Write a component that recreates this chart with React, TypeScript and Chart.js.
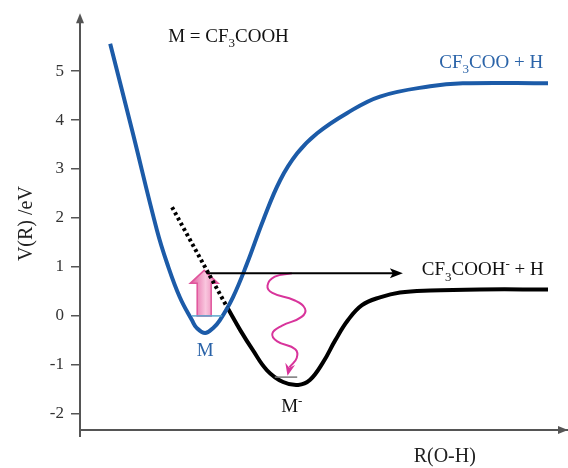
import React, { useEffect, useRef } from "react";
import { Chart, registerables } from "chart.js";

Chart.register(...registerables);

// ---- Data (R in arbitrary units, V in eV) ----
const blueR = [0.62, 1.07, 1.58, 1.79, 2.05, 2.3, 2.4, 2.57, 2.73, 2.87, 3.14, 3.43, 3.76, 4.11, 4.46, 4.87, 5.48, 6.16, 7.19, 7.86, 9.61];
const blueV = [5.56, 3.79, 1.75, 1.07, 0.38, -0.09, -0.25, -0.35, -0.25, -0.09, 0.38, 1.07, 1.95, 2.77, 3.32, 3.73, 4.14, 4.48, 4.69, 4.75, 4.75];

const blackR = [3.02, 3.29, 3.55, 3.84, 4.17, 4.48, 4.72, 4.99, 5.24, 5.5, 5.79, 6.16, 6.57, 7.19, 8.21, 9.61];
const blackV = [0.18, -0.29, -0.7, -1.11, -1.35, -1.41, -1.31, -0.95, -0.5, -0.09, 0.22, 0.38, 0.48, 0.52, 0.54, 0.54];

const crossR = [1.89, 3.02];
const crossV = [2.22, 0.18];

const waveR = [4.35, 4.0, 3.85, 3.95, 4.4, 4.62, 4.55, 4.15, 3.95, 4.05, 4.42, 4.45, 4.3];
const waveV = [0.87, 0.8, 0.62, 0.47, 0.32, 0.15, -0.02, -0.2, -0.36, -0.52, -0.68, -0.86, -1.05];
const waveTip = { r: 4.27, v: -1.18 };

const yTicks = [-2, -1, 0, 1, 2, 3, 4, 5];

const levelM = { r0: 2.3, r1: 2.92, v: 0 };
const levelMminus = { r0: 4.0, r1: 4.46, v: -1.25 };
const excitation = { r: 2.55, v0: 0, v1: 0.93 };
const detach = { r0: 2.6, r1: 6.63, v: 0.87 };

const SERIF = "'Liberation Serif','Times New Roman',serif";
const BLUE = "#1c5ba8";
const BLUE_TEXT = "#2a63a8";
const PINK = "#d8349b";

type Part = { t: string; k?: "sub" | "sup" };

function drawRich(ctx: CanvasRenderingContext2D, parts: Part[], x: number, y: number, size: number, color: string, align: "left" | "right" | "center") {
  const fontFor = (p: Part) => `${p.k ? Math.round(size * 0.68) : size}px ${SERIF}`;
  const widths = parts.map((p) => {
    ctx.font = fontFor(p);
    return ctx.measureText(p.t).width;
  });
  const total = widths.reduce((a, b) => a + b, 0);
  let cx = align === "right" ? x - total : align === "center" ? x - total / 2 : x;
  ctx.fillStyle = color;
  ctx.textAlign = "left";
  ctx.textBaseline = "alphabetic";
  parts.forEach((p, i) => {
    ctx.font = fontFor(p);
    const dy = p.k === "sub" ? size * 0.28 : p.k === "sup" ? -size * 0.38 : 0;
    ctx.fillText(p.t, cx, y + dy);
    cx += widths[i];
  });
}

const annotPlugin = {
  id: "annot",
  beforeDatasetsDraw(chart: any) {
    const { ctx, scales } = chart;
    const x = scales.x, y = scales.y;
    // pink block arrow
    const cx = x.getPixelForValue(excitation.r);
    const yb = y.getPixelForValue(excitation.v0);
    const yt = y.getPixelForValue(excitation.v1);
    const sw = 7, hw = 14, hl = 13;
    ctx.save();
    const g = ctx.createLinearGradient(cx - hw, 0, cx + hw, 0);
    g.addColorStop(0, "#e0579b");
    g.addColorStop(0.55, "#f9c6de");
    g.addColorStop(1, "#e674ab");
    ctx.beginPath();
    ctx.moveTo(cx - sw, yb);
    ctx.lineTo(cx - sw, yt + hl);
    ctx.lineTo(cx - hw, yt + hl);
    ctx.lineTo(cx, yt);
    ctx.lineTo(cx + hw, yt + hl);
    ctx.lineTo(cx + sw, yt + hl);
    ctx.lineTo(cx + sw, yb);
    ctx.closePath();
    ctx.fillStyle = g;
    ctx.fill();
    ctx.strokeStyle = "#e0559c";
    ctx.lineWidth = 1.5;
    ctx.stroke();
    ctx.restore();
  },
  afterDatasetsDraw(chart: any) {
    const { ctx, scales, chartArea } = chart;
    const x = scales.x, y = scales.y;
    ctx.save();
    // vibrational levels
    ctx.lineWidth = 1.5;
    ctx.strokeStyle = "#5aa6cc";
    ctx.beginPath();
    ctx.moveTo(x.getPixelForValue(levelM.r0), y.getPixelForValue(levelM.v));
    ctx.lineTo(x.getPixelForValue(levelM.r1), y.getPixelForValue(levelM.v));
    ctx.stroke();
    ctx.strokeStyle = "#777";
    ctx.beginPath();
    ctx.moveTo(x.getPixelForValue(levelMminus.r0), y.getPixelForValue(levelMminus.v));
    ctx.lineTo(x.getPixelForValue(levelMminus.r1), y.getPixelForValue(levelMminus.v));
    ctx.stroke();

    // detachment arrow
    const ay = y.getPixelForValue(detach.v);
    const ax0 = x.getPixelForValue(detach.r0);
    const ax1 = x.getPixelForValue(detach.r1);
    ctx.strokeStyle = "#000";
    ctx.lineWidth = 2;
    ctx.beginPath();
    ctx.moveTo(ax0, ay);
    ctx.lineTo(ax1 - 6, ay);
    ctx.stroke();
    ctx.fillStyle = "#000";
    ctx.beginPath();
    ctx.moveTo(ax1, ay);
    ctx.lineTo(ax1 - 13, ay - 5);
    ctx.lineTo(ax1 - 10, ay);
    ctx.lineTo(ax1 - 13, ay + 5);
    ctx.closePath();
    ctx.fill();

    // wave arrow head
    const tx = x.getPixelForValue(waveTip.r), ty = y.getPixelForValue(waveTip.v);
    const lx = x.getPixelForValue(waveR[waveR.length - 1]), ly = y.getPixelForValue(waveV[waveV.length - 1]);
    const ang = Math.atan2(ty - ly, tx - lx);
    ctx.fillStyle = PINK;
    ctx.beginPath();
    ctx.moveTo(tx + 2 * Math.cos(ang), ty + 2 * Math.sin(ang));
    ctx.lineTo(tx - 10 * Math.cos(ang) + 5 * Math.sin(ang), ty - 10 * Math.sin(ang) - 5 * Math.cos(ang));
    ctx.lineTo(tx - 6 * Math.cos(ang), ty - 6 * Math.sin(ang));
    ctx.lineTo(tx - 10 * Math.cos(ang) - 5 * Math.sin(ang), ty - 10 * Math.sin(ang) + 5 * Math.cos(ang));
    ctx.closePath();
    ctx.fill();

    // axis arrows
    ctx.fillStyle = "#555";
    const left = chartArea.left, top = chartArea.top, bottom = chartArea.bottom, right = chartArea.right;
    ctx.beginPath();
    ctx.moveTo(left, top - 4);
    ctx.lineTo(left - 4, top + 6);
    ctx.lineTo(left + 4, top + 6);
    ctx.closePath();
    ctx.fill();
    ctx.beginPath();
    ctx.moveTo(right + 1, bottom);
    ctx.lineTo(right - 9, bottom - 4);
    ctx.lineTo(right - 9, bottom + 4);
    ctx.closePath();
    ctx.fill();
    ctx.strokeStyle = "#555";
    ctx.lineWidth = 2;
    ctx.beginPath();
    ctx.moveTo(left, bottom);
    ctx.lineTo(left, bottom + 7);
    ctx.stroke();

    // texts
    drawRich(ctx, [{ t: "M = CF" }, { t: "3", k: "sub" }, { t: "COOH" }], x.getPixelForValue(1.81), y.getPixelForValue(5.59), 19, "#111", "left");
    drawRich(ctx, [{ t: "CF" }, { t: "3", k: "sub" }, { t: "COO + H" }], x.getPixelForValue(9.51), y.getPixelForValue(5.06), 19, BLUE_TEXT, "right");
    drawRich(ctx, [{ t: "CF" }, { t: "3", k: "sub" }, { t: "COOH" }, { t: "-", k: "sup" }, { t: " + H" }], x.getPixelForValue(7.02), y.getPixelForValue(0.83), 19, "#111", "left");
    drawRich(ctx, [{ t: "M" }], x.getPixelForValue(2.57), y.getPixelForValue(-0.82), 19, BLUE_TEXT, "center");
    drawRich(ctx, [{ t: "M" }, { t: "-", k: "sup" }], x.getPixelForValue(4.13), y.getPixelForValue(-1.97), 19, "#111", "left");

    // x-axis title
    ctx.font = `20px ${SERIF}`;
    ctx.fillStyle = "#222";
    ctx.textAlign = "center";
    ctx.textBaseline = "middle";
    ctx.fillText("R(O-H)", x.getPixelForValue(7.49), bottom + 27);
    ctx.restore();
  },
};

const toPts = (rs: number[], vs: number[]) => rs.map((r, i) => ({ x: r, y: vs[i] }));

export default function App() {
  const ref = useRef<HTMLCanvasElement | null>(null);
  useEffect(() => {
    document.body.style.margin = "0";
    const canvas = ref.current!;
    const chart = new Chart(canvas, {
      type: "scatter",
      data: {
        datasets: [
          {
            data: toPts(crossR, crossV),
            showLine: true,
            borderColor: "#000",
            borderWidth: 4,
            borderDash: [3, 3],
            pointRadius: 0,
          } as any,
          {
            data: toPts(blueR, blueV),
            showLine: true,
            borderColor: BLUE,
            borderWidth: 4,
            pointRadius: 0,
            tension: 0.4,
          } as any,
          {
            data: toPts(blackR, blackV),
            showLine: true,
            borderColor: "#000",
            borderWidth: 4,
            pointRadius: 0,
            tension: 0.4,
          } as any,
          {
            data: toPts(waveR, waveV),
            showLine: true,
            borderColor: PINK,
            borderWidth: 2,
            pointRadius: 0,
            tension: 0.45,
          } as any,
        ],
      },
      options: {
        animation: false,
        responsive: false,
        maintainAspectRatio: false,
        layout: { padding: { top: 17, right: 1, left: 0, bottom: 0 } },
        plugins: { legend: { display: false }, tooltip: { enabled: false } },
        scales: {
          x: {
            type: "linear",
            min: 0,
            max: 10,
            ticks: { display: false },
            grid: { display: false, drawTicks: false },
            border: { display: true, color: "#555", width: 2 },
            afterFit: (s: any) => {
              s.height = 38;
            },
          },
          y: {
            type: "linear",
            min: -2.33,
            max: 6.1,
            afterBuildTicks: (s: any) => {
              s.ticks = yTicks.map((v) => ({ value: v }));
            },
            afterFit: (s: any) => {
              s.width = 80;
            },
            ticks: {
              padding: 7,
              color: "#333",
              font: { family: SERIF, size: 17 },
            },
            grid: { drawOnChartArea: false, drawTicks: true, tickLength: 9, color: "#555", lineWidth: 1.5 },
            border: { display: true, color: "#555", width: 2 },
            title: {
              display: true,
              text: "V(R) /eV",
              color: "#222",
              font: { family: SERIF, size: 20 },
              padding: { top: 15, bottom: 0 },
            },
          },
        },
      },
      plugins: [annotPlugin],
    });
    return () => chart.destroy();
  }, []);
  return (
    <div style={{ position: "fixed", left: 0, top: 0, width: 568, height: 468, background: "#fff" }}>
      <canvas ref={ref} width={568} height={468} />
    </div>
  );
}
